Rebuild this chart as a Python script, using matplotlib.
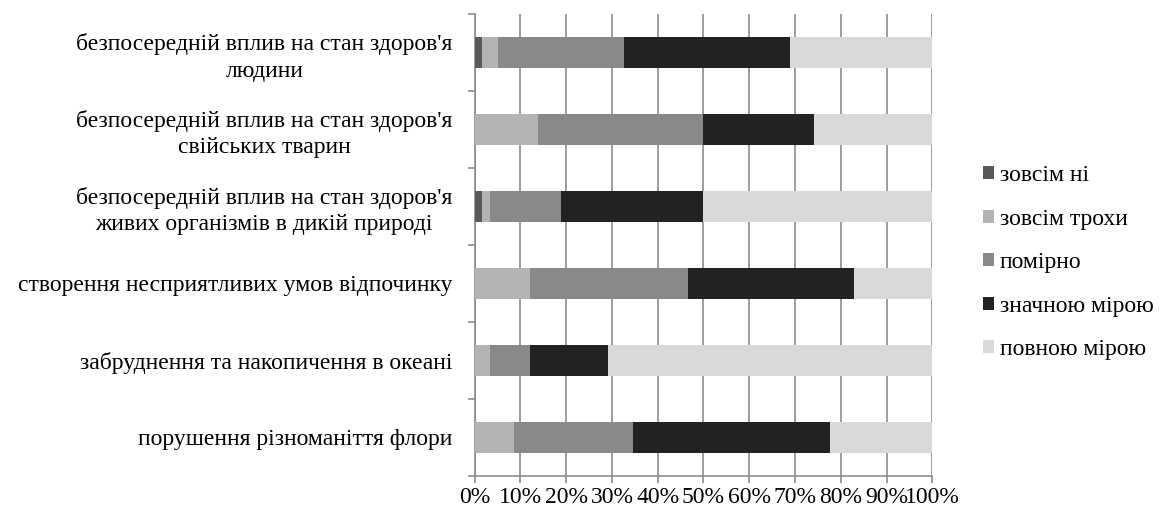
import matplotlib

matplotlib.use("Agg")
import matplotlib.pyplot as plt
from matplotlib.patches import Patch
from matplotlib.ticker import FixedLocator, PercentFormatter

plt.rcParams["font.family"] = ["Liberation Serif", "DejaVu Serif"]

CATEGORIES = [
    "безпосередній вплив на стан здоров'я\nлюдини",
    "безпосередній вплив на стан здоров'я\nсвійських тварин",
    "безпосередній вплив на стан здоров'я\nживих організмів в дикій природі",
    "створення несприятливих умов відпочинку",
    "забруднення та накопичення в океані",
    "порушення різноманіття флори",
]

SERIES = ["зовсім ні", "зовсім трохи", "помірно", "значною мірою", "повною мірою"]

# share of answers per category, %
NOT_AT_ALL = [1.7, 0.0, 1.7, 0.0, 0.0, 0.0]
A_LITTLE = [3.4, 13.8, 1.7, 12.1, 3.4, 8.6]
MODERATE = [27.6, 36.2, 15.5, 34.5, 8.6, 25.9]
LARGELY = [36.2, 24.1, 31.0, 36.2, 17.2, 43.1]
FULLY = [31.0, 25.9, 50.0, 17.2, 70.7, 22.4]

COLORS = ["#595959", "#b3b3b3", "#898989", "#222222", "#d9d9d9"]
GRID = "#8c8c8c"
FS = 17

fig = plt.figure(figsize=(11.6, 5.14), dpi=100)
ax = fig.add_axes([0.4092, 0.0745, 0.3945, 0.8988])

ypos = [i + 0.5 for i in range(len(CATEGORIES))]
left = [0.0] * len(CATEGORIES)
for name, vals, color in zip(SERIES, [NOT_AT_ALL, A_LITTLE, MODERATE, LARGELY, FULLY], COLORS):
    ax.barh(ypos, vals, left=left, height=0.4, color=color, label=name, zorder=3)
    left = [a + b for a, b in zip(left, vals)]

ax.set_xlim(0, 100)
ax.set_ylim(len(CATEGORIES), 0)
ax.set_xticks(range(0, 101, 10))
ax.xaxis.set_major_formatter(PercentFormatter(decimals=0))
ax.grid(True, axis="x", color=GRID, lw=1.2, zorder=0)

ax.set_yticks(ypos)
ax.set_yticklabels(CATEGORIES, ha="right", multialignment="center", fontsize=FS,
                   linespacing=1.33)
ax.yaxis.set_minor_locator(FixedLocator(range(len(CATEGORIES) + 1)))
ax.tick_params(axis="y", which="major", length=0, pad=16)
ax.tick_params(axis="y", which="minor", length=5, width=1.2, color=GRID)
ax.tick_params(axis="x", length=5, width=1.2, color=GRID, labelsize=FS, pad=3)

for side in ("top", "right"):
    ax.spines[side].set_visible(False)
for side in ("left", "bottom"):
    ax.spines[side].set_color(GRID)
    ax.spines[side].set_linewidth(1.2)

handles = [Patch(facecolor=c, label=s) for s, c in zip(SERIES, COLORS)]
fig.legend(
    handles=handles, loc="center left", bbox_to_anchor=(0.847, 0.489),
    frameon=False, fontsize=FS, borderpad=0, borderaxespad=0,
    handlelength=0.47, handleheight=0.47, handletextpad=0.25, labelspacing=0.95,
)

fig.savefig("out.png", dpi=100)
